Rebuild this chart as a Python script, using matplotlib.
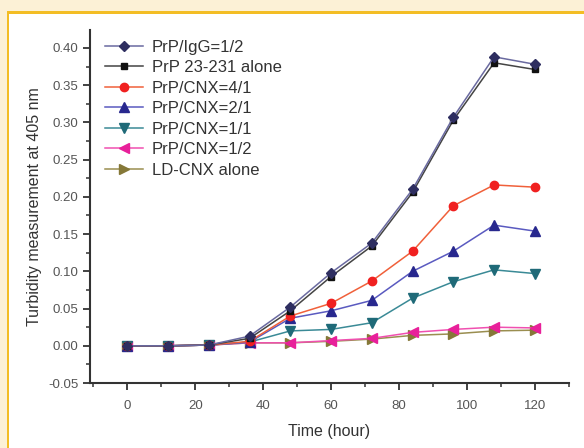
import matplotlib.pyplot as plt
from matplotlib.patches import Rectangle
from matplotlib.ticker import MultipleLocator

# tempos de medida (hora)
tempo = [0, 12, 24, 36, 48, 60, 72, 84, 96, 108, 120]

prp_igg = [0.000, 0.000, 0.001, 0.013, 0.052, 0.098, 0.138, 0.210, 0.307, 0.388, 0.378]
prp_sozinho = [0.000, 0.000, 0.001, 0.010, 0.047, 0.093, 0.134, 0.206, 0.303, 0.380, 0.371]
cnx_4_1 = [0.000, 0.000, 0.001, 0.006, 0.040, 0.057, 0.087, 0.127, 0.188, 0.216, 0.213]
cnx_2_1 = [0.000, 0.000, 0.001, 0.005, 0.037, 0.047, 0.061, 0.100, 0.127, 0.162, 0.154]
cnx_1_1 = [0.000, 0.000, 0.001, 0.005, 0.020, 0.022, 0.031, 0.064, 0.086, 0.102, 0.097]
cnx_1_2 = [0.000, 0.000, 0.001, 0.004, 0.004, 0.007, 0.010, 0.018, 0.022, 0.025, 0.024]
ld_cnx = [0.000, 0.000, 0.001, 0.004, 0.004, 0.006, 0.009, 0.014, 0.016, 0.020, 0.021]

nomes = ['PrP/IgG=1/2', 'PrP 23-231 alone', 'PrP/CNX=4/1', 'PrP/CNX=2/1',
         'PrP/CNX=1/1', 'PrP/CNX=1/2', 'LD-CNX alone']
series = [prp_igg, prp_sozinho, cnx_4_1, cnx_2_1, cnx_1_1, cnx_1_2, ld_cnx]
cores_linha = ['#6a6aa0', '#444444', '#f0603a', '#5a5ac0', '#3a8a96', '#f050b0', '#9a8e50']
cores_marca = ['#2e2e60', '#111111', '#f02020', '#28288e', '#1f6a78', '#e8209a', '#857838']
marcadores = ['D', 's', 'o', '^', 'v', '<', '>']
tamanhos = [5.5, 5, 6, 7, 7, 6.5, 6.5]

plt.rcParams['font.family'] = ['Liberation Sans', 'DejaVu Sans']

fig = plt.figure(figsize=(5.84, 4.48), dpi=100)
fig.patch.set_facecolor('#fcf1d6')
# moldura branca com borda dourada
fig.patches.append(Rectangle((8 / 584, 0), 1, 1 - 13 / 448, transform=fig.transFigure,
                             facecolor='white', edgecolor='none', zorder=-3))
fig.patches.append(Rectangle((6.5 / 584, 0), 2.5 / 584, 1 - 11.5 / 448, transform=fig.transFigure,
                             facecolor='#f3bd24', edgecolor='none', zorder=-2))
fig.patches.append(Rectangle((6.5 / 584, 1 - 14 / 448), 1, 2.5 / 448, transform=fig.transFigure,
                             facecolor='#f3bd24', edgecolor='none', zorder=-2))

ax = fig.add_axes([0.154, 0.145, 0.82, 0.788])
ax.set_facecolor('none')

n = len(series)
for i, (y, nome, cl, cm, mk, ms) in enumerate(zip(series, nomes, cores_linha, cores_marca,
                                                   marcadores, tamanhos)):
    ax.plot(tempo, y, color=cl, lw=1.1, marker=mk, markersize=ms,
            markerfacecolor=cm, markeredgecolor=cm, label=nome, zorder=3 + n - i)

ax.set_xlim(-11, 130)
ax.set_ylim(-0.05, 0.424)
ax.xaxis.set_major_locator(MultipleLocator(20))
ax.xaxis.set_minor_locator(MultipleLocator(10))
ax.yaxis.set_major_locator(MultipleLocator(0.05))
ax.yaxis.set_minor_locator(MultipleLocator(0.025))
ax.yaxis.set_major_formatter(plt.FormatStrFormatter('%.2f'))

for lado in ['top', 'right']:
    ax.spines[lado].set_visible(False)
for lado in ['left', 'bottom']:
    ax.spines[lado].set_linewidth(1.5)
    ax.spines[lado].set_color('#333333')

ax.tick_params(which='major', length=5, width=1.3, color='#333333', labelsize=9.5,
               labelcolor='#555555', direction='out')
ax.tick_params(which='minor', length=3, width=1.1, color='#333333', direction='out')
ax.tick_params(axis='x', which='major', pad=7)

ax.set_xlabel('Time (hour)', fontsize=11.5, color='#333333', labelpad=9)
ax.set_ylabel('Turbidity measurement at 405 nm', fontsize=11.5, color='#333333')

ax.legend(loc='upper left', bbox_to_anchor=(0.0, 1.015), frameon=False, fontsize=12,
          handlelength=2.3, handletextpad=0.5, labelspacing=0.33, labelcolor='#333333')

fig.savefig('out.png', dpi=100, facecolor=fig.get_facecolor())
